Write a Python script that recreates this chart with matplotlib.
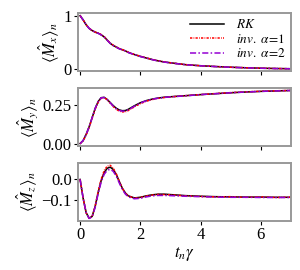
import matplotlib
matplotlib.use("Agg")
import matplotlib.pyplot as plt

plt.rcParams['font.family'] = 'serif'
plt.rcParams['font.serif'] = ['Liberation Serif', 'DejaVu Serif']
plt.rcParams['mathtext.fontset'] = 'stix'

# time grid (t_n * gamma)
t = [0.0, 0.1, 0.2, 0.3, 0.4, 0.5, 0.6, 0.7, 0.8, 0.9, 1.0, 1.1, 1.2, 1.3,
     1.4, 1.5, 1.6, 1.8, 2.0, 2.2, 2.4, 2.6, 2.8, 3.0, 3.5, 4.0, 4.5, 5.0,
     5.5, 6.0, 6.5, 7.0]

# RK reference
mx_rk = [1.0, 0.92, 0.83, 0.76, 0.72, 0.69, 0.67, 0.64, 0.60, 0.54, 0.48, 0.44,
         0.41, 0.38, 0.36, 0.34, 0.31, 0.27, 0.235, 0.205, 0.175, 0.15, 0.13,
         0.115, 0.08, 0.06, 0.045, 0.032, 0.022, 0.014, 0.008, 0.004]
my_rk = [0.0, 0.02, 0.06, 0.11, 0.17, 0.23, 0.275, 0.30, 0.302, 0.288, 0.268,
         0.248, 0.231, 0.220, 0.215, 0.216, 0.224, 0.247, 0.267, 0.281, 0.291,
         0.298, 0.303, 0.306, 0.313, 0.320, 0.326, 0.332, 0.337, 0.341, 0.344,
         0.347]
mz_rk = [0.0, -0.09, -0.16, -0.187, -0.178, -0.13, -0.062, -0.005, 0.033, 0.054,
         0.059, 0.048, 0.024, -0.01, -0.042, -0.065, -0.079, -0.089, -0.086,
         -0.079, -0.074, -0.071, -0.071, -0.073, -0.078, -0.081, -0.083,
         -0.084, -0.085, -0.085, -0.086, -0.086]

# inversion, alpha = 1
mx_a1 = [1.0, 0.92, 0.83, 0.76, 0.72, 0.69, 0.672, 0.645, 0.605, 0.545, 0.485,
         0.445, 0.412, 0.383, 0.362, 0.342, 0.313, 0.272, 0.238, 0.207, 0.177,
         0.152, 0.131, 0.116, 0.081, 0.06, 0.045, 0.032, 0.022, 0.014, 0.008,
         0.004]
my_a1 = [0.0, 0.018, 0.057, 0.106, 0.165, 0.225, 0.27, 0.297, 0.301, 0.286,
         0.264, 0.242, 0.224, 0.212, 0.207, 0.208, 0.216, 0.240, 0.261, 0.277,
         0.288, 0.296, 0.301, 0.305, 0.313, 0.320, 0.327, 0.333, 0.338, 0.342,
         0.345, 0.347]
mz_a1 = [0.0, -0.09, -0.16, -0.187, -0.178, -0.128, -0.057, 0.002, 0.043, 0.064,
         0.068, 0.054, 0.027, -0.009, -0.042, -0.066, -0.08, -0.09, -0.087,
         -0.08, -0.075, -0.072, -0.073, -0.074, -0.079, -0.082, -0.084,
         -0.083, -0.086, -0.084, -0.087, -0.085]

# inversion, alpha = 2
mx_a2 = [1.0, 0.92, 0.83, 0.76, 0.72, 0.69, 0.668, 0.638, 0.598, 0.538, 0.478,
         0.437, 0.408, 0.378, 0.357, 0.337, 0.308, 0.268, 0.233, 0.203, 0.173,
         0.148, 0.128, 0.113, 0.079, 0.059, 0.044, 0.031, 0.021, 0.013, 0.007,
         0.003]
my_a2 = [0.0, 0.02, 0.06, 0.11, 0.17, 0.23, 0.275, 0.299, 0.301, 0.287, 0.266,
         0.245, 0.228, 0.217, 0.212, 0.213, 0.221, 0.244, 0.265, 0.280, 0.290,
         0.297, 0.302, 0.305, 0.312, 0.320, 0.326, 0.332, 0.337, 0.341, 0.344,
         0.347]
mz_a2 = [0.0, -0.09, -0.16, -0.188, -0.18, -0.134, -0.068, -0.012, 0.025,
         0.044, 0.049, 0.039, 0.016, -0.017, -0.048, -0.07, -0.084, -0.093,
         -0.091, -0.084, -0.079, -0.077, -0.077, -0.078, -0.081, -0.083,
         -0.085, -0.086, -0.086, -0.087, -0.087, -0.087]

labels = [r'$RK$', r'$inv.\ \alpha\!=\!1$', r'$inv.\ \alpha\!=\!2$']
ylabels = [r'$\langle\hat{M}_x\rangle_n$', r'$\langle\hat{M}_y\rangle_n$',
           r'$\langle\hat{M}_z\rangle_n$']
yticks = [[0, 1], [0.0, 0.25], [-0.1, 0.0]]
yticklabels = [['0', '1'], ['0.00', '0.25'], ['\u22120.1', '0.0']]
xticks = [0, 2, 4, 6]

series = [(mx_rk, mx_a1, mx_a2), (my_rk, my_a1, my_a2), (mz_rk, mz_a1, mz_a2)]

fig, axes = plt.subplots(3, 1, figsize=(3.0, 2.7), dpi=100, sharex=True)
fig.subplots_adjust(left=0.26, right=0.97, top=0.952, bottom=0.181, hspace=0.28)

for i, ax in enumerate(axes):
    rk, a1, a2 = series[i]
    ax.plot(t, rk, color='black', lw=1.1, label=labels[0])
    ax.plot(t, a1, color='red', lw=1.1, ls=(0, (1.5, 0.8, 0.5, 0.8)), label=labels[1])
    ax.plot(t, a2, color='#9400d3', lw=1.1, ls=(0, (4, 1.5, 1, 1.5)), label=labels[2])
    ax.set_ylabel(ylabels[i], fontsize=12, labelpad=2)
    ax.set_yticks(yticks[i])
    ax.set_yticklabels(yticklabels[i])
    ax.tick_params(labelsize=12, length=3, width=0.8, pad=1.5)
    for s in ax.spines.values():
        s.set_color('#999999')
        s.set_linewidth(1.4)

axes[0].set_xlim(-0.07, 7.0)
axes[0].set_xticks(xticks)
axes[2].set_xticklabels([str(x) for x in xticks])
axes[2].set_xlabel(r'$t_n\gamma$', fontsize=12, labelpad=1)

axes[0].legend(loc='upper right', frameon=False, fontsize=9.5, handlelength=2.6,
               labelspacing=0.12, borderpad=0.05, borderaxespad=0.35,
               handletextpad=0.9)

fig.savefig('out.png', dpi=100)
